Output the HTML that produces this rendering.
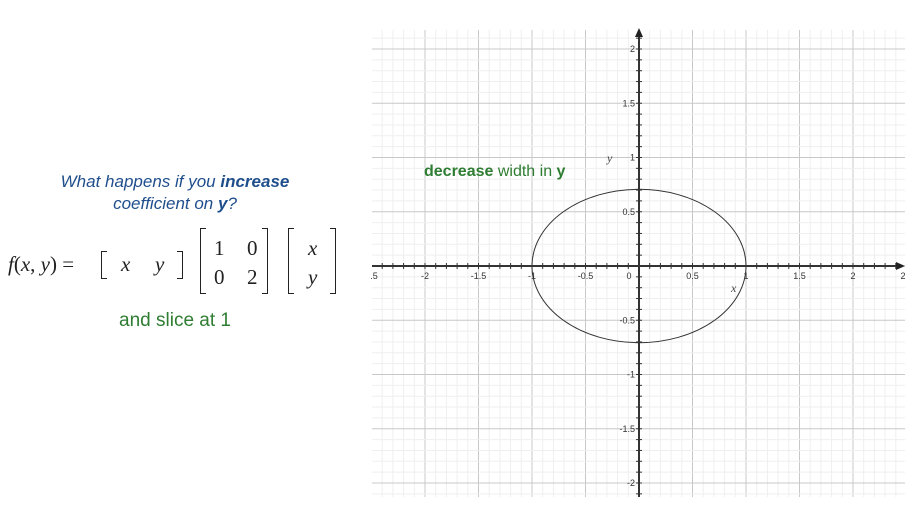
<!DOCTYPE html>
<html><head><meta charset="utf-8"><style>
body{margin:0;width:914px;height:527px;background:#fff;overflow:hidden;position:relative;font-family:"Liberation Sans",sans-serif}
.q{position:absolute;left:20px;width:310px;text-align:center;color:#1f4e8c;font-style:italic;font-size:17px;line-height:22px}
.m{position:absolute;font-family:"Liberation Serif",serif;font-size:21px;color:#222}
.m span{position:absolute}
.bl,.br{position:absolute;width:5px;border-top:1.3px solid #222;border-bottom:1.3px solid #222}
.bl{border-left:1.3px solid #222}.br{border-right:1.3px solid #222}
</style></head><body>
<div class="q" style="top:171px">What happens if you <b>increase</b><br>coefficient on <b>y</b>?</div>
<div class="m" style="left:0;top:0;width:350px;height:527px">
<span style="left:8px;top:252px"><i>f</i>(<i>x</i>, <i>y</i>) =</span>
<div class="bl" style="left:101px;top:251px;height:26px"></div>
<span style="left:121px;top:252px;font-style:italic">x</span><span style="left:155px;top:252px;font-style:italic">y</span>
<div class="br" style="left:177px;top:251px;height:26px"></div>
<div class="bl" style="left:200px;top:228px;height:64px"></div>
<span style="left:214px;top:236px">1</span><span style="left:247px;top:236px">0</span><span style="left:214px;top:265px">0</span><span style="left:247px;top:265px">2</span>
<div class="br" style="left:262px;top:228px;height:64px"></div>
<div class="bl" style="left:288px;top:228px;height:64px"></div>
<span style="left:308px;top:236px;font-style:italic">x</span><span style="left:308px;top:265px;font-style:italic">y</span>
<div class="br" style="left:330px;top:228px;height:64px"></div>
</div>
<div style="position:absolute;left:20px;width:310px;text-align:center;top:310px;color:#2e7d32;font-size:19px">and slice at 1</div>
<svg id="c" width="914" height="527" style="position:absolute;left:0;top:0"></svg>
<script>
const xTicks=[-2,-1.5,-1,-0.5,0,0.5,1,1.5,2];
const yTicks=[-2,-1.5,-1,-0.5,0.5,1,1.5,2];
const ellipseRx=[1];
const ellipseRy=[0.707];
const ox=639,oy=266,sx=107,sy=108.5;
const X=v=>ox+v*sx, Y=v=>oy-v*sy;
const L=372,R=905,T=30,B=497;
const s=document.getElementById('c');const NS='http://www.w3.org/2000/svg';
function mk(t,a){const e=document.createElementNS(NS,t);for(const k in a)e.setAttribute(k,a[k]);s.appendChild(e);return e;}
for(let i=-27;i<=27;i++){const v=i/10,x=X(v);if(x<L||x>R)continue;const g=mk('line',{x1:x,x2:x,y1:T,y2:B,stroke:i%5==0?'#c8c8c8':'#efefef','stroke-width':1});

}
for(let i=-23;i<=23;i++){const v=i/10,y=Y(v);if(y<T||y>B)continue;const g=mk('line',{x1:L,x2:R,y1:y,y2:y,stroke:i%5==0?'#c8c8c8':'#efefef','stroke-width':1});

}
const xa=mk('line',{x1:L,x2:R-6,y1:oy,y2:oy,stroke:'#333','stroke-width':2});


mk('path',{d:`M${R} ${oy}l-9 -4v8z`,fill:'#222'});
const ya=mk('line',{x1:ox,x2:ox,y1:B,y2:T+6,stroke:'#333','stroke-width':2});


mk('path',{d:`M${ox} ${T-2}l-4 9h8z`,fill:'#222'});
for(let i=-25;i<=25;i++){const x=X(i/10);if(x>L&&x<R-8)mk('line',{x1:x,x2:x,y1:oy-3,y2:oy+3,stroke:'#333'});}
for(let i=-21;i<=21;i++){const y=Y(i/10);if(y>T+8&&y<B)mk('line',{x1:ox-3,x2:ox+3,y1:y,y2:y,stroke:'#333'});}
xTicks.forEach(v=>{const t=mk('text',{x:v==0?ox-10:X(v),y:oy+13,'font-size':9,'text-anchor':'middle',fill:'#333'});t.textContent=v;

});
[[374,'.5'],[903,'2']].forEach(a=>{const t=mk('text',{x:a[0],y:oy+13,'font-size':9,'text-anchor':'middle',fill:'#333'});t.textContent=a[1];});
yTicks.forEach(v=>{const t=mk('text',{x:ox-4,y:Y(v)+3,'font-size':9,'text-anchor':'end',fill:'#333'});t.textContent=v;

});
const xl=mk('text',{x:731,y:292,'font-size':12,'font-style':'italic','font-family':'Liberation Serif',fill:'#444'});xl.textContent='x';
const yl=mk('text',{x:607,y:162,'font-size':12,'font-style':'italic','font-family':'Liberation Serif',fill:'#444'});yl.textContent='y';
ellipseRx.forEach((rx,i)=>{const e=mk('ellipse',{cx:X(0),cy:Y(0),rx:rx*sx,ry:ellipseRy[i]*sy,fill:'none',stroke:'#333','stroke-width':1});

});
const d=mk('text',{x:424,y:176,'font-size':16,fill:'#2e7d32'});d.innerHTML='<tspan font-weight="bold">decrease</tspan> width in <tspan font-weight="bold">y</tspan>';


</script>
</body></html>
